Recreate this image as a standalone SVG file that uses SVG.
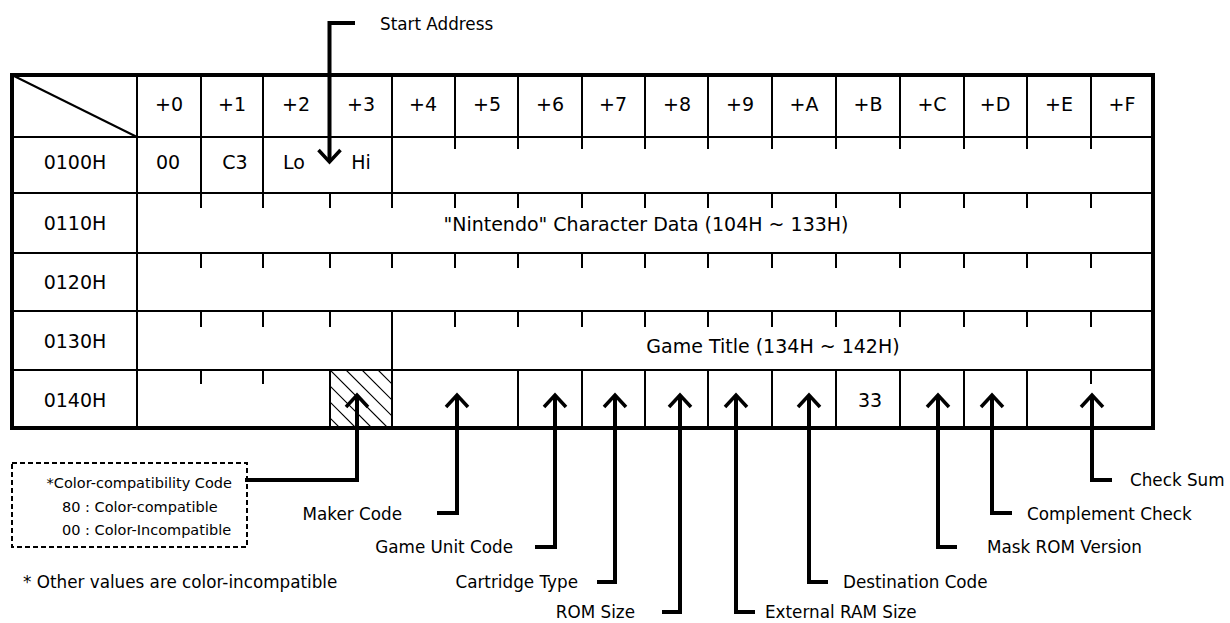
<svg xmlns="http://www.w3.org/2000/svg" width="1230" height="623" viewBox="0 0 1230 623">
<style>
.t{font-family:"DejaVu Sans","Liberation Sans",sans-serif;font-size:19px;fill:#000;text-anchor:middle}
.lbl{font-family:"DejaVu Sans","Liberation Sans",sans-serif;font-size:16.8px;fill:#000}
.end{text-anchor:end}
.bx{font-family:"DejaVu Sans","Liberation Sans",sans-serif;font-size:14.5px;fill:#000}
.ln{fill:none;stroke:#000;stroke-width:2}
.conn{fill:none;stroke:#000;stroke-width:4}
</style>
<defs>
<marker id="chev" markerUnits="userSpaceOnUse" markerWidth="30" markerHeight="30" viewBox="-15 -15 30 30" refX="0" refY="0" orient="auto-start-reverse" overflow="visible">
<path d="M -12 -11 L 0 0 L -12 11" fill="none" stroke="#000" stroke-width="3.5"/>
</marker>
<clipPath id="hclip"><rect x="331" y="371" width="60" height="56"/></clipPath>
</defs>
<rect width="1230" height="623" fill="#fff"/>

<g id="grid">
<path class="ln" d="M12 137H1153M12 193H1153M12 253H1153M12 311H1153M12 370H1153M137 75V428"/>
<path class="ln" d="M12 75L137 137"/>
<path class="ln" d="M201 75V137M263 75V137M392 75V137M455 75V137M518 75V137M582 75V137M645 75V137M708 75V137M772 75V137M836 75V137M900 75V137M964 75V137M1027 75V137M1091 75V137"/>
<path class="ln" d="M201 137V193M263 137V193M392 137V193M455 137V149M518 137V149M582 137V149M645 137V149M708 137V149M772 137V149M836 137V149M900 137V149M964 137V149M1027 137V149M1091 137V149"/>
<path class="ln" d="M201 193V208M263 193V208M330 193V208M392 193V208M455 193V208M518 193V208M582 193V208M645 193V208M708 193V208M772 193V208M836 193V208M900 193V208M964 193V208M1027 193V208M1091 193V208"/>
<path class="ln" d="M201 253V268M263 253V268M330 253V268M392 253V268M455 253V268M518 253V268M582 253V268M645 253V268M708 253V268M772 253V268M836 253V268M900 253V268M964 253V268M1027 253V268M1091 253V268"/>
<path class="ln" d="M201 311V327M263 311V327M330 311V327M392 311V370M455 311V327M518 311V327M582 311V327M645 311V327M708 311V327M772 311V327M836 311V327M900 311V327M964 311V327M1027 311V327M1091 311V327"/>
<path class="ln" d="M201 370V384M263 370V384M1091 370V384M330 370V428M392 370V428M518 370V428M582 370V428M645 370V428M708 370V428M772 370V428M836 370V428M900 370V428M964 370V428M1027 370V428"/>
<g clip-path="url(#hclip)" stroke="#000" stroke-width="1.2">
<path d="M282 370l60 60M298 370l60 60M314 370l60 60M330 370l60 60M346 370l60 60M362 370l60 60M378 370l60 60"/>
</g>
<rect x="12" y="75" width="1141" height="353" fill="none" stroke="#000" stroke-width="4"/>
</g>

<g id="header">
<text class="t" x="169" y="111">+0</text>
<text class="t" x="232" y="111">+1</text>
<text class="t" x="296" y="111">+2</text>
<text class="t" x="361" y="111">+3</text>
<text class="t" x="423" y="111">+4</text>
<text class="t" x="487" y="111">+5</text>
<text class="t" x="550" y="111">+6</text>
<text class="t" x="613" y="111">+7</text>
<text class="t" x="677" y="111">+8</text>
<text class="t" x="740" y="111">+9</text>
<text class="t" x="804" y="111">+A</text>
<text class="t" x="868" y="111">+B</text>
<text class="t" x="932" y="111">+C</text>
<text class="t" x="995" y="111">+D</text>
<text class="t" x="1059" y="111">+E</text>
<text class="t" x="1122" y="111">+F</text>
</g>

<g id="row-0100H">
<text class="t" x="75" y="169">0100H</text>
<text class="t" x="168" y="169">00</text>
<text class="t" x="235" y="169">C3</text>
<text class="t" x="294" y="169">Lo</text>
<text class="t" x="361" y="169">Hi</text>
</g>
<g id="row-0110H">
<text class="t" x="75" y="230">0110H</text>
<text class="t" x="646" y="231">"Nintendo" Character Data (104H ~ 133H)</text>
</g>
<g id="row-0120H">
<text class="t" x="75" y="289">0120H</text>
</g>
<g id="row-0130H">
<text class="t" x="75" y="348">0130H</text>
<text class="t" x="773" y="353">Game Title (134H ~ 142H)</text>
</g>
<g id="row-0140H">
<text class="t" x="75" y="407">0140H</text>
<text class="t" x="870" y="407">33</text>
</g>

<g id="start-address">
<text class="lbl" x="380" y="30" font-size="15.5">Start Address</text>
</g>

<g id="color-box">
<rect x="12" y="463" width="235" height="84" fill="none" stroke="#000" stroke-width="2" stroke-dasharray="5 3"/>
<text class="bx end" x="232" y="488">*Color-compatibility Code</text>
<text class="bx" x="62" y="512">80 : Color-compatible</text>
<text class="bx" x="62" y="535">00 : Color-Incompatible</text>
</g>
<g id="note">
<text class="lbl" x="23" y="588" font-size="16.5">* Other values are color-incompatible</text>
</g>

<g id="label-maker-code"><text class="lbl end" x="402" y="520">Maker Code</text></g>
<g id="label-game-unit-code"><text class="lbl end" x="513" y="553">Game Unit Code</text></g>
<g id="label-cartridge-type"><text class="lbl end" x="578" y="588">Cartridge Type</text></g>
<g id="label-rom-size"><text class="lbl end" x="635" y="618">ROM Size</text></g>
<g id="label-external-ram-size"><text class="lbl" x="765" y="618">External RAM Size</text></g>
<g id="label-destination-code"><text class="lbl" x="843" y="588">Destination Code</text></g>
<g id="label-mask-rom-version"><text class="lbl" x="987" y="553">Mask ROM Version</text></g>
<g id="label-complement-check"><text class="lbl" x="1027" y="520">Complement Check</text></g>
<g id="label-check-sum"><text class="lbl" x="1130" y="486">Check Sum</text></g>

<g id="connectors">
<path class="conn" stroke-width="3" d="M355 23H329.5V162" marker-end="url(#chev)"/>
<path class="conn" d="M357 395V480H245" marker-start="url(#chev)"/>
<path class="conn" d="M457 395V513H437" marker-start="url(#chev)"/>
<path class="conn" d="M555 395V547H535" marker-start="url(#chev)"/>
<path class="conn" d="M615 395V582H597" marker-start="url(#chev)"/>
<path class="conn" d="M680 395V612H662" marker-start="url(#chev)"/>
<path class="conn" d="M736 395V612H755" marker-start="url(#chev)"/>
<path class="conn" d="M809 395V582H828" marker-start="url(#chev)"/>
<path class="conn" d="M938 395V547H957" marker-start="url(#chev)"/>
<path class="conn" d="M992 395V513H1012" marker-start="url(#chev)"/>
<path class="conn" d="M1092 395V480H1112" marker-start="url(#chev)"/>
</g>
</svg>
